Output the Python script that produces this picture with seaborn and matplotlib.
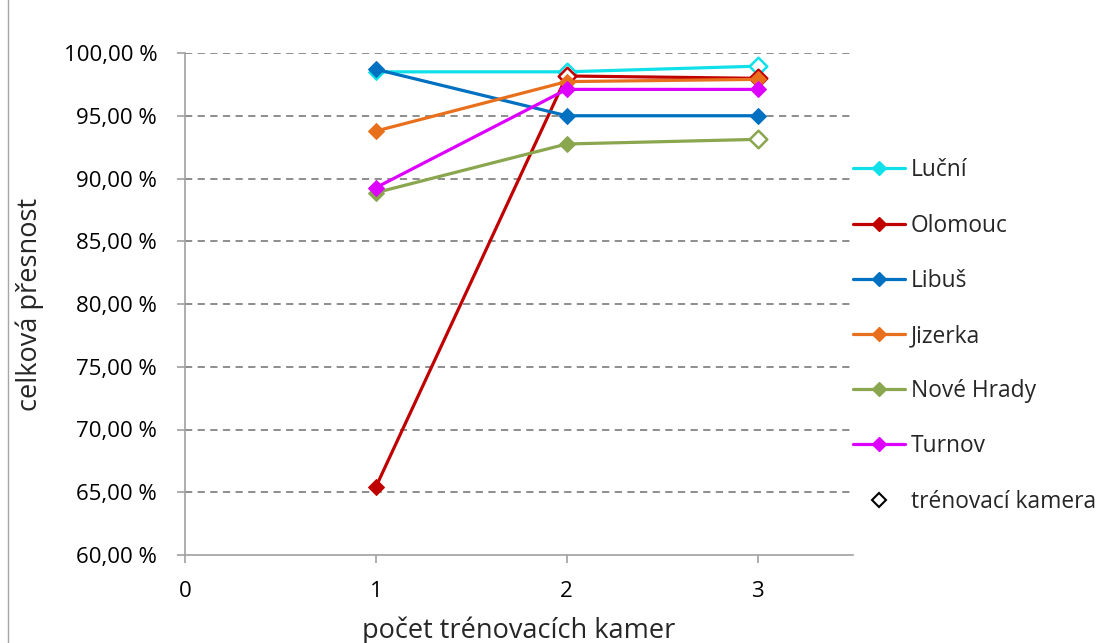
import matplotlib
matplotlib.use("Agg")
import matplotlib.pyplot as plt
from matplotlib.lines import Line2D
from matplotlib.patches import Rectangle
from matplotlib.ticker import FuncFormatter
import seaborn as sns
import pandas as pd

sns.set_theme(style="white")
plt.rcParams["font.family"] = ["Open Sans", "DejaVu Sans"]

# number of training cameras
cameras = [1, 2, 3]

# overall accuracy (%) per location
lucni = [98.50, 98.50, 98.95]
olomouc = [65.42, 98.17, 97.98]
libus = [98.70, 95.00, 95.00]
jizerka = [93.78, 97.72, 97.90]
nove_hrady = [88.87, 92.75, 93.12]
turnov = [89.27, 97.10, 97.10]

# whether the location's camera was among the training cameras
lucni_train = [False, True, True]
olomouc_train = [False, True, True]
libus_train = [False, False, False]
jizerka_train = [False, False, False]
nove_hrady_train = [False, False, True]
turnov_train = [False, False, False]

names = ["Luční", "Olomouc", "Libuš", "Jizerka", "Nové Hrady", "Turnov"]
values = [lucni, olomouc, libus, jizerka, nove_hrady, turnov]
trained = [lucni_train, olomouc_train, libus_train, jizerka_train,
           nove_hrady_train, turnov_train]
colors = ["#10E0E8", "#C00000", "#0070C0", "#E8701C", "#8AA64E", "#DD00FF"]

y_ticks = [60, 65, 70, 75, 80, 85, 90, 95, 100]
x_ticks = [0, 1, 2, 3]

fig = plt.figure(figsize=(11.05, 6.43), dpi=100)
ax = fig.add_axes([185 / 1105, 1 - 555 / 643, (853 - 185) / 1105, (555 - 53) / 643])

# outer chart frame
fig.patches.append(Rectangle((8 / 1105, -0.01), 1.02, 1.02, transform=fig.transFigure,
                             fill=False, edgecolor="#A6A6A6", linewidth=1.0))

# dashed horizontal gridlines
for yv in y_ticks[1:]:
    ax.axhline(yv, color="#858585", linestyle=(0, (4, 3)), linewidth=1.3, zorder=0)

grey = "#A0A0A0"
z = 2
for name, vals, tr, col in zip(names, values, trained, colors):
    df = pd.DataFrame({"cams": cameras, "acc": vals})
    sns.lineplot(data=df, x="cams", y="acc", ax=ax, color=col, linewidth=2.3,
                 marker="D", markersize=8, markeredgecolor=col, markerfacecolor=col,
                 zorder=z, clip_on=False)
    z += 1
    hollow = df[tr]
    if len(hollow):
        sns.scatterplot(data=hollow, x="cams", y="acc", ax=ax, marker="D", s=80,
                        facecolor="white", edgecolor=col, linewidth=1.8,
                        zorder=z, clip_on=False)
    z += 1

ax.set_xlim(0, 3.5)
ax.set_ylim(60, 100)
ax.set_xticks(x_ticks)
ax.set_yticks(y_ticks)
ax.yaxis.set_major_formatter(FuncFormatter(lambda v, p: f"{v:.2f} %".replace(".", ",")))

for side in ["top", "right"]:
    ax.spines[side].set_visible(False)
for side in ["left", "bottom"]:
    ax.spines[side].set_color(grey)
    ax.spines[side].set_linewidth(1.2)

ax.tick_params(axis="both", which="major", length=6, width=1.2, color=grey,
               labelsize=16, labelcolor="black", direction="out")
ax.tick_params(axis="x", pad=13, bottom=True)
ax.tick_params(axis="y", pad=14, left=True)

ax.set_xlabel("počet trénovacích kamer", fontsize=19.5, labelpad=10)
ax.set_ylabel("celková přesnost", fontsize=19.5, labelpad=14)

handles = [Line2D([0], [0], color=c, linewidth=2.3, marker="D", markersize=7,
                  markerfacecolor=c, markeredgecolor=c) for c in colors]
handles.append(Line2D([0], [0], color="none", marker="D", markersize=7,
                      markerfacecolor="white", markeredgecolor="black", markeredgewidth=1.5))
labels = names + ["trénovací kamera"]
ax.legend(handles, labels, loc="upper left", bbox_to_anchor=(1.0, 0.79),
          frameon=False, fontsize=16.4, labelspacing=1.37, handlelength=2.3,
          handletextpad=0.25, borderaxespad=0, borderpad=0)

fig.savefig("out.png", dpi=100)
